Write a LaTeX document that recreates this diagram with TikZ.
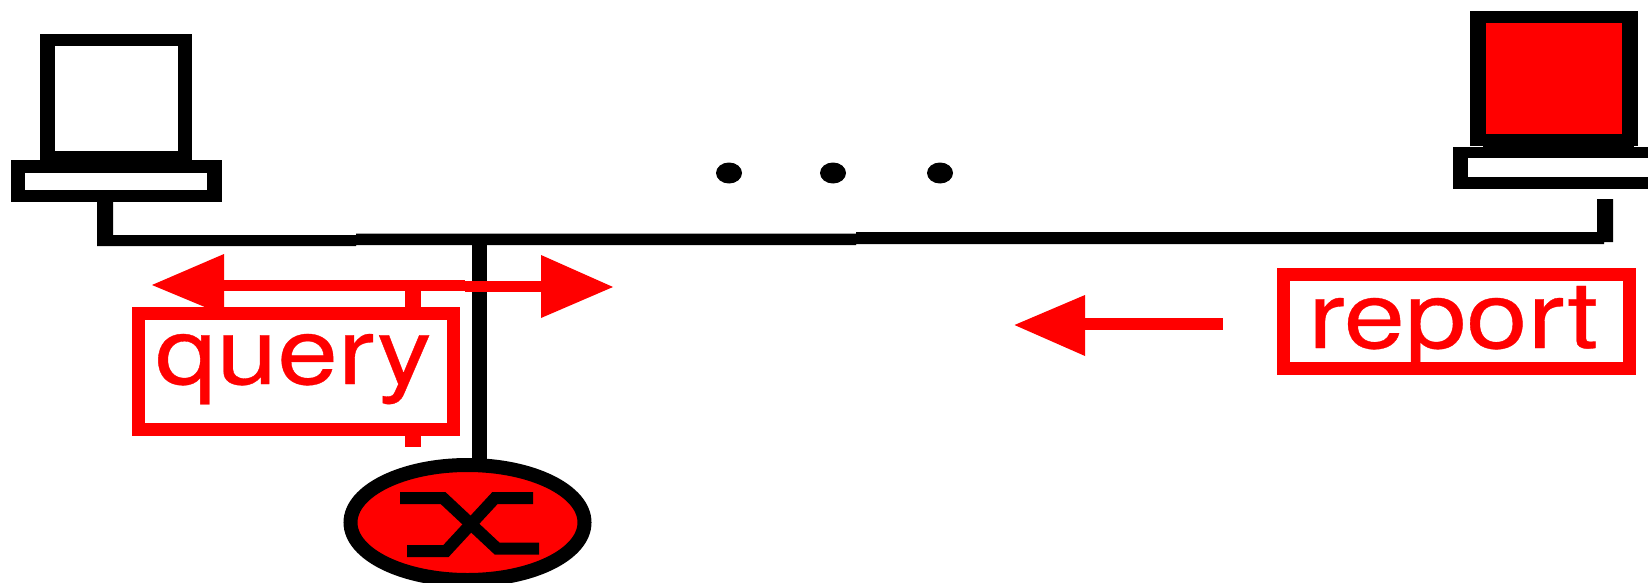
\documentclass[tikz,border=0pt]{standalone}
\usepackage{fontspec}
\setmainfont{TeX Gyre Heros}
\newfontfamily\wordfont[FakeBold=0.35]{TeX Gyre Heros}
\usetikzlibrary{shapes.geometric}
\definecolor{pure}{RGB}{255,0,0}
\tikzset{
  framebox/.style={draw=pure,line width=13pt,fill=white,inner sep=0pt},
  wordlabel/.style={text=pure,inner sep=0pt,anchor=base,font=\wordfont\fontsize{108}{108}\selectfont},
  dotmark/.style={fill=black,draw=none,ellipse,minimum width=26pt,minimum height=21pt,inner sep=0pt},
}
\begin{document}
\begin{tikzpicture}[x=1pt,y=-1pt]
\useasboundingbox (0,0) rectangle (1648,583);
\fill[white] (0,0) rectangle (1648,583);
% left host
\fill[black] (40,34) rectangle (192,160);
\fill[white] (54.7,46) rectangle (178,150.6);
\fill[black] (11,160) rectangle (221.6,202);
\fill[white] (25.3,173) rectangle (207.3,190.3);
% right host
\fill[black] (1470,11) rectangle (1638,146);
\fill[pure] (1486,23) rectangle (1622,134);
\fill[black] (1453,147) rectangle (1648,189);
\fill[black] (1483,145) rectangle (1634,148);
\fill[white] (1468,158) rectangle (1648,177);
% cables
\fill[black] (97,202) -- (113,202) -- (113,235) -- (356,235) -- (356,233.5) -- (856,233.5) -- (856,232) -- (1597,232) -- (1597,199) -- (1613,199) -- (1613,242) -- (1604,242) -- (1604,244) -- (856,244) -- (856,245) -- (356,245) -- (356,246) -- (97,246) -- cycle;
\fill[black] (472,245) rectangle (487,460);
% router
\node[draw=black,line width=14pt,fill=pure,ellipse,minimum width=234pt,minimum height=115pt,inner sep=0pt] (router) at (467.5,522.5) {};
\draw[black,line width=12pt] (400,498) -- (443,498) -- (497,548.5) -- (539,548.5);
\draw[black,line width=12pt] (407,551) -- (446,551) -- (495,498) -- (533,498);
% dots
\node[dotmark] (d1) at (729,173) {};
\node[dotmark] (d2) at (833,173) {};
\node[dotmark] (d3) at (940,173) {};
% query arrow
\fill[pure] (152,285) -- (224,254) -- (224,315) -- cycle;
\fill[pure] (224,280) rectangle (465,291);
\fill[pure] (465,281) rectangle (541,292);
\fill[pure] (613,287) -- (541,255) -- (541,318) -- cycle;
\fill[pure] (405,291) rectangle (421,447);
% query
\node[framebox,minimum width=315pt,minimum height=116.5pt] (query) at (295.5,371.25) {};
\node[wordlabel] (querytext) at (293.5,384) {\scalebox{1.01}[0.86]{query}};
% report
\node[framebox,minimum width=346.5pt,minimum height=94.5pt] (report) at (1456.25,321.25) {};
\node[wordlabel] (reporttext) at (1453,348) {\scalebox{1.02}[0.86]{report}};
\fill[pure] (1085,318) rectangle (1223,330);
\fill[pure] (1014.5,325) -- (1085,295) -- (1085,356) -- cycle;
\end{tikzpicture}
\end{document}
